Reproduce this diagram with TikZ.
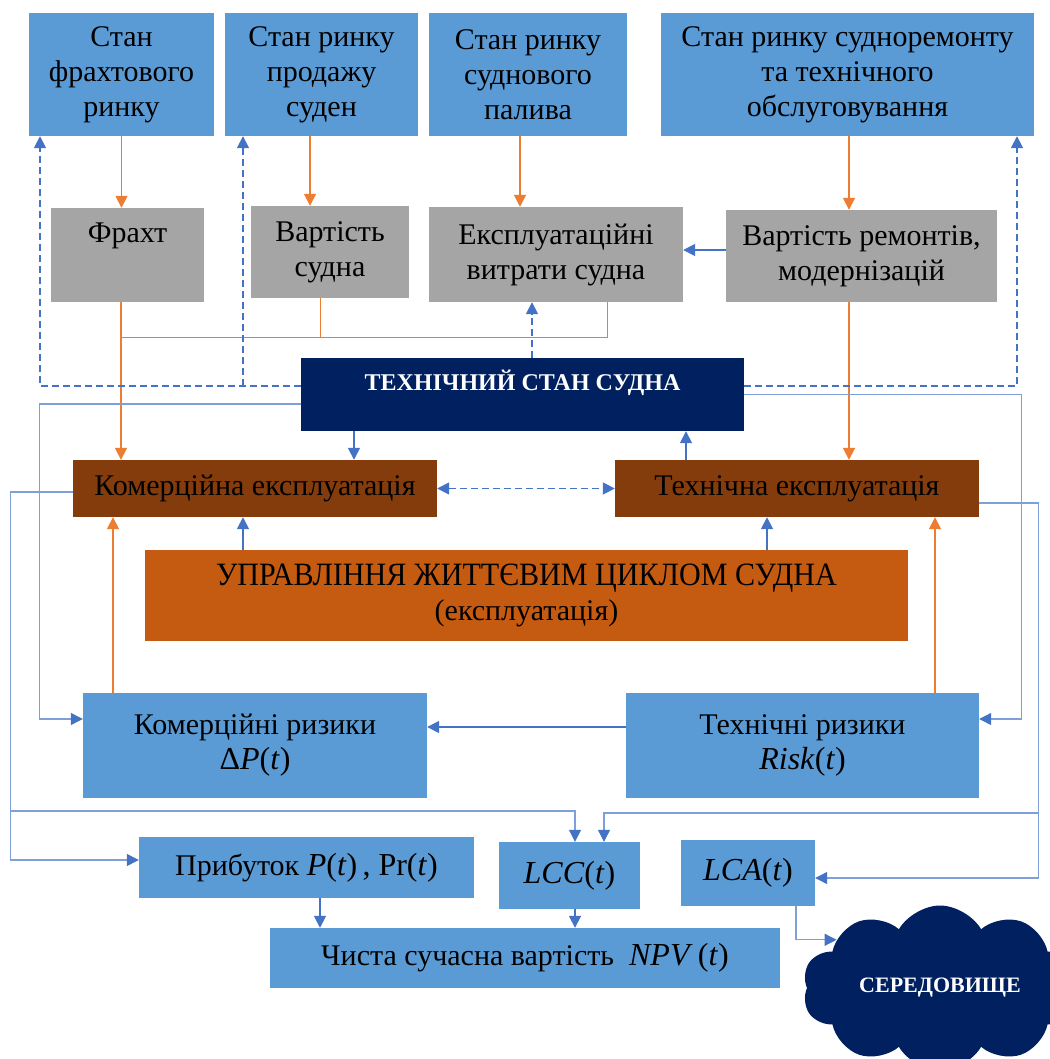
\documentclass[tikz,border=0pt]{standalone}
\usepackage{fontspec}
\setmainfont{Liberation Serif}
\usepackage{tikz}
\usetikzlibrary{arrows.meta,shapes.symbols}
\definecolor{boxblue}{HTML}{5B9BD5}
\definecolor{boxgrey}{HTML}{A5A5A5}
\definecolor{boxbrown}{HTML}{843C0C}
\definecolor{boxorange}{HTML}{C55A11}
\definecolor{navy}{HTML}{002060}
\definecolor{arrblue}{HTML}{4472C4}
\definecolor{arrorange}{HTML}{ED7D31}
\definecolor{lineblue}{HTML}{7F9FDA}
\newcommand{\mth}[1]{{\fontsize{32}{34}\selectfont #1}}
\newcommand{\iv}[1]{\textit{#1}}

\begin{document}
\begin{tikzpicture}[x=1pt,y=-1pt,
    box/.style={inner sep=2pt, align=center, font=\fontsize{30}{35}\selectfont},
    bluebox/.style={box, fill=boxblue},
    greybox/.style={box, fill=boxgrey},
    brownbox/.style={box, fill=boxbrown},
    tip/.style={-{Triangle[length=12pt,width=12pt]}},
    orarrow/.style={draw=arrorange, line width=1.7pt, tip},
    orline/.style={draw=arrorange, line width=1pt},
    bluearrow/.style={draw=arrblue, line width=1.7pt, tip},
    dasharrow/.style={draw=arrblue, line width=1.7pt, dash pattern=on 7pt off 4pt, tip},
    thinline/.style={draw=lineblue, line width=1.2pt, -{Triangle[length=12pt,width=12pt,color=arrblue]}}]
    \useasboundingbox (0,0) rectangle (1049,1059);

    % markets
    \node[bluebox, minimum width=185, minimum height=123] (fr) at (121.5,74.5) {Стан\\фрахтового\\ринку};
    \node[bluebox, minimum width=193, minimum height=123] (sale) at (321.5,74.5) {Стан ринку\\продажу\\суден};
    \node[bluebox, minimum width=198, minimum height=123] (fuel) at (528,74.5) {Стан ринку\\суднового\\палива};
    \node[bluebox, minimum width=373, minimum height=123] (repair) at (847.5,74.5) {Стан ринку судноремонту\\та технічного\\обслуговування};

    % costs
    \node[greybox, minimum width=153, minimum height=94] (frakht) at (127.5,255) {Фрахт\\\strut};
    \node[greybox, minimum width=158, minimum height=92] (vart) at (330,252) {Вартість\\судна};
    \node[greybox, minimum width=254, minimum height=95] (ekspl) at (556,254.5) {Експлуатаційні\\витрати судна};
    \node[greybox, minimum width=271, minimum height=92] (remont) at (861.5,256) {Вартість ремонтів,\\модернізацій};

    \node[box, fill=navy, text=white, minimum width=443, minimum height=73,
          font=\bfseries\fontsize{24}{28}\selectfont] (navy) at (522.5,394.5)
          {\raisebox{4.5pt}[0pt][0pt]{ТЕХНІЧНИЙ СТАН СУДНА}};

    \node[brownbox, minimum width=364, minimum height=57] (kom) at (255,488.5) {Комерційна експлуатація};
    \node[brownbox, minimum width=364, minimum height=57] (tech) at (797,488.5) {Технічна експлуатація};

    \node[box, fill=boxorange, minimum width=763, minimum height=91] (upr) at (526.5,595.5)
          {\fontsize{31}{36}\selectfont\scalebox{0.97}[1.05]{УПРАВЛІННЯ ЖИТТЄВИМ ЦИКЛОМ СУДНА}\\(експлуатація)};

    \node[bluebox, minimum width=344, minimum height=105] (krisk) at (255,745.5) {Комерційні ризики\\\mth{Δ\iv{P}(\iv{t})}};
    \node[bluebox, minimum width=353, minimum height=105] (trisk) at (802.5,745.5) {Технічні ризики\\\mth{\iv{Risk}(\iv{t})}};

    \node[bluebox, minimum width=335, minimum height=61] (pryb) at (306.5,867.5) {Прибуток \mth{\iv{P}(\iv{t})\,, Pr(\iv{t})}};
    \node[bluebox, minimum width=141, minimum height=67] (lcc) at (569.5,875.5) {\mth{\iv{LCC}(\iv{t})}};
    \node[bluebox, minimum width=134, minimum height=66] (lca) at (748,873) {\mth{\iv{LCA}(\iv{t})}};
    \node[bluebox, minimum width=510, minimum height=60] (npv) at (525,958) {Чиста сучасна вартість \ \mth{\iv{NPV}\,(\iv{t})}};

    \node[cloud, cloud puffs=10, cloud puff arc=120, cloud ignores aspect, fill=navy, text=white,
          minimum width=275, minimum height=165,
          font=\bfseries\fontsize{22}{26}\selectfont] (env) at (940,988) {\raisebox{6pt}{СЕРЕДОВИЩЕ}};

    % markets -> costs
    \draw[orarrow] (fr.south) -- (fr.south |- frakht.north);
    \draw[orarrow] ([xshift=-11.5pt]sale.south) -- ([xshift=-11.5pt]sale.south |- vart.north);
    \draw[orarrow] ([xshift=-8pt]fuel.south) -- ([xshift=-8pt]fuel.south |- ekspl.north);
    \draw[orarrow] ([xshift=1.5pt]repair.south) -- ([xshift=1.5pt]repair.south |- remont.north);
    \draw[bluearrow] ([yshift=6pt]remont.west) -- ([yshift=6pt]remont.west -| ekspl.east);

    % costs -> operation
    \coordinate (oj) at (121,337);
    \draw[orline] ([xshift=-10pt]vart.south) |- (oj);
    \draw[orline] ([xshift=51pt]ekspl.south) |- (oj);
    \draw[orarrow] ([xshift=-6.5pt]frakht.south) -- ([xshift=-6.5pt]frakht.south |- kom.north);
    \draw[orarrow] ([xshift=-12.5pt]remont.south) -- ([xshift=-12.5pt]remont.south |- tech.north);

    % technical state feedback
    \coordinate (dS) at (243,386);
    \draw[dasharrow] ([yshift=8.5pt]navy.west) -| ([xshift=-81.5pt]fr.south);
    \draw[dasharrow] (dS) -- ([xshift=-78.5pt]sale.south);
    \draw[dasharrow] ([yshift=8.5pt]navy.east) -| ([xshift=169.5pt]repair.south);
    \draw[dasharrow] ([xshift=9.5pt]navy.north) -- ([xshift=9.5pt]navy.north |- ekspl.south);
    \draw[bluearrow] ([xshift=-168.5pt]navy.south) -- ([xshift=-168.5pt]navy.south |- kom.north);
    \draw[bluearrow] ([xshift=-111pt]tech.north) -- ([xshift=-111pt]tech.north |- navy.south);
    \draw[dasharrow, {Triangle[length=12pt,width=12pt]}-{Triangle[length=12pt,width=12pt]}] (kom) -- (tech);

    % management and risks
    \draw[bluearrow] ([xshift=-283.5pt]upr.north) -- ([xshift=-283.5pt]upr.north |- kom.south);
    \draw[bluearrow] ([xshift=240.5pt]upr.north) -- ([xshift=240.5pt]upr.north |- tech.south);
    \draw[orarrow] ([xshift=-142pt]krisk.north) -- ([xshift=-142pt]krisk.north |- kom.south);
    \draw[orarrow] ([xshift=132.5pt]trisk.north) -- ([xshift=132.5pt]trisk.north |- tech.south);
    \draw[bluearrow] ([yshift=18.5pt]trisk.west) -- ([yshift=18.5pt]trisk.west -| krisk.east);
    \draw[thinline] ([yshift=-9.5pt]navy.west) -| ([xshift=-43pt,yshift=26.5pt]krisk.west) -- ([yshift=26.5pt]krisk.west);
    \draw[thinline] (navy.east) -| ([xshift=42pt,yshift=26.5pt]trisk.east) -- ([yshift=26.5pt]trisk.east);

    % results
    \coordinate (bL) at (11,811);
    \coordinate (bR) at (1038,813);
    \draw[thinline] ([yshift=-3.5pt]kom.west) -| ([xshift=-128pt,yshift=7.5pt]pryb.west) -- ([yshift=7.5pt]pryb.west);
    \draw[thinline] (bL) -| ([xshift=5.5pt]lcc.north);
    \draw[thinline] ([yshift=-14.5pt]tech.east) -| ([xshift=223pt,yshift=-5pt]lca.east) -- ([yshift=-5pt]lca.east);
    \draw[thinline] (bR) -| ([xshift=34.5pt]lcc.north);
    \draw[bluearrow] ([xshift=13.5pt]pryb.south) -- ([xshift=13.5pt]pryb.south |- npv.north);
    \draw[bluearrow] ([xshift=5.5pt]lcc.south) -- ([xshift=5.5pt]lcc.south |- npv.north);
    \draw[thinline] ([xshift=48pt]lca.south) |- (env.155);
\end{tikzpicture}
\end{document}
